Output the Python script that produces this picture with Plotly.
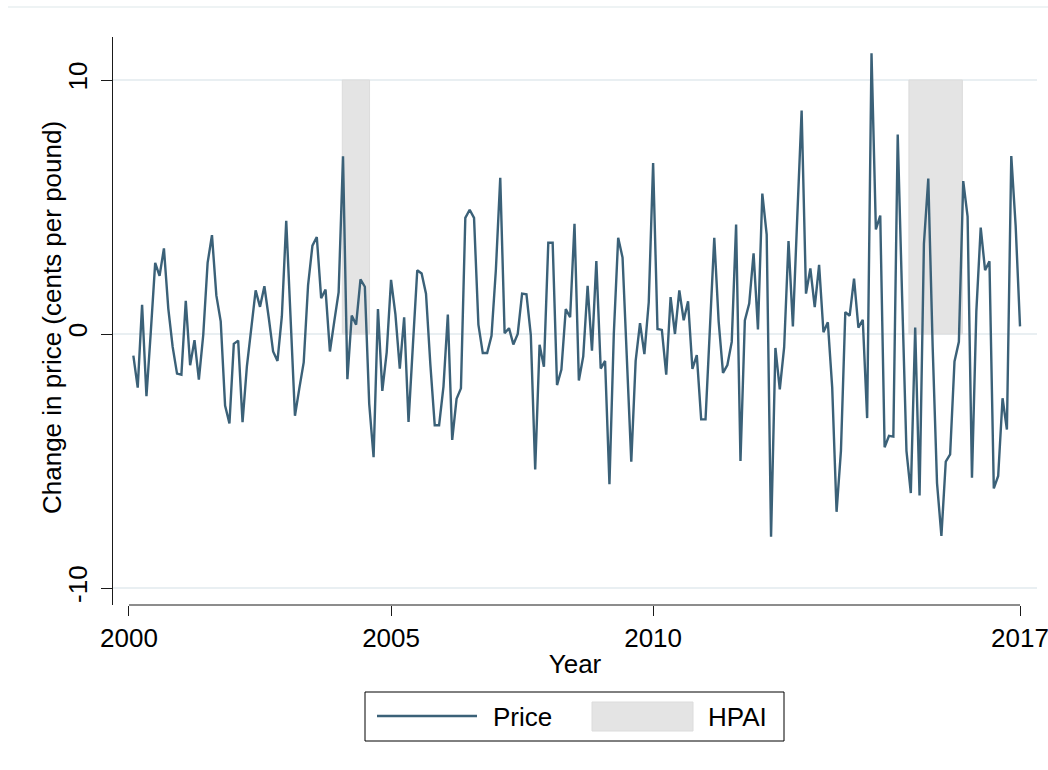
import plotly.graph_objects as go

# ---- data -------------------------------------------------------------
start_year = 2000
n_months = 204  # 2000m1 .. 2016m12
# monthly change in price (cents per pound)
price_change = [
    -0.85, -2.11, 1.15, -2.45, 0.10, 2.80, 2.29, 3.37, 1.00, -0.51, -1.56, -1.60,
    1.31, -1.23, -0.24, -1.80, -0.04, 2.80, 3.89, 1.52, 0.50, -2.82, -3.52, -0.39,
    -0.26, -3.47, -1.26, 0.30, 1.72, 1.07, 1.88, 0.64, -0.69, -1.06, 0.70, 4.46,
    0.60, -3.22, -2.14, -1.12, 1.92, 3.48, 3.82, 1.41, 1.75, -0.69, 0.50, 1.65,
    7.00, -1.78, 0.73, 0.37, 2.15, 1.86, -2.75, -4.85, 0.98, -2.24, -0.72, 2.13,
    0.77, -1.36, 0.66, -3.46, -0.45, 2.51, 2.38, 1.59, -1.20, -3.59, -3.59, -2.07,
    0.77, -4.17, -2.55, -2.14, 4.57, 4.89, 4.57, 0.37, -0.75, -0.75, -0.07, 2.53,
    6.15, 0.03, 0.23, -0.41, 0.00, 1.59, 1.56, -0.04, -5.33, -0.42, -1.29, 3.59,
    3.59, -2.01, -1.40, 0.98, 0.66, 4.34, -1.83, -0.88, 1.90, -0.66, 2.87, -1.36,
    -1.06, -5.91, 0.00, 3.79, 3.01, -0.99, -5.03, -1.06, 0.43, -0.79, 1.25, 6.73,
    0.20, 0.16, -1.60, 1.45, 0.00, 1.72, 0.54, 1.29, -1.37, -0.83, -3.36, -3.36,
    -0.04, 3.79, 0.50, -1.53, -1.22, -0.31, 4.31, -5.00, 0.53, 1.20, 3.18, 0.18,
    5.53, 3.91, -7.98, -0.55, -2.18, -0.52, 3.66, 0.30, 4.60, 8.80, 1.59, 2.58,
    1.06, 2.72, 0.07, 0.46, -2.10, -7.00, -4.60, 0.86, 0.72, 2.18, 0.25, 0.56,
    -3.31, 11.05, 4.12, 4.66, -4.46, -4.01, -4.04, 7.85, 1.50, -4.60, -6.26, 0.25,
    -6.36, 3.56, 6.12, -0.50, -5.87, -7.95, -5.02, -4.74, -1.08, -0.31, 6.02, 4.62,
    -5.66, 0.89, 4.19, 2.51, 2.86, -6.08, -5.59, -2.53, -3.76, 7.01, 4.26, 0.30,
]
# HPAI outbreak periods (fractional years) and shaded band height
hpai_start = [2004.07, 2014.88]
hpai_end = [2004.59, 2015.90]
hpai_low = 0
hpai_high = 10

x_ticks = [2000, 2005, 2010, 2017]
y_ticks = [-10, 0, 10]

# ---- derived x (year + month/12) ---------------------------------------
x_vals = [start_year + (i + 1) / 12 for i in range(n_months)]

LINE_COLOR = "#3b6178"
SHADE_COLOR = "#e4e4e4"
GRID_COLOR = "#e9eff2"
AXIS_COLOR = "#1a1a1a"
FONT = "Liberation Sans, Arial, sans-serif"

fig = go.Figure()

# shaded HPAI periods as filled polygons
hx, hy = [], []
for s, e in zip(hpai_start, hpai_end):
    hx += [s, e, e, s, s, None]
    hy += [hpai_low, hpai_low, hpai_high, hpai_high, hpai_low, None]
fig.add_trace(go.Scatter(
    x=hx, y=hy, mode="lines", fill="toself", fillcolor=SHADE_COLOR,
    line=dict(color="#dcdcdc", width=1), name="HPAI", showlegend=False,
    hoverinfo="skip",
))

fig.add_trace(go.Scatter(
    x=x_vals, y=price_change, mode="lines", name="Price",
    line=dict(color=LINE_COLOR, width=2.4), showlegend=False,
))

# ---- layout -------------------------------------------------------------
L, R, T, B = 113, 11, 37, 165
W, H = 1048, 770
pw, ph = W - L - R, H - T - B


def px_x(p):
    return (p - L) / pw


def px_y(p):
    return (H - B - p) / ph


fig.update_layout(
    width=W, height=H,
    margin=dict(l=L, r=R, t=T, b=B, autoexpand=False),
    paper_bgcolor="white", plot_bgcolor="white",
    font=dict(family=FONT, size=26, color="black"),
    showlegend=False,
    xaxis=dict(
        range=[1999.695, 2017.324],
        tickmode="array", tickvals=x_ticks, ticktext=[str(t) for t in x_ticks],
        ticks="outside", ticklen=10, tickwidth=1, tickcolor=AXIS_COLOR,
        ticklabeloverflow="allow",
        showline=False, showgrid=False, zeroline=False, automargin=False,
        title=dict(text="Year", standoff=2, font=dict(size=26)),
        tickfont=dict(size=26),
    ),
    yaxis=dict(
        range=[-10.669, 11.693],
        tickmode="array", tickvals=y_ticks, ticktext=[str(t) for t in y_ticks],
        tickangle=-90, ticklabelstandoff=4, ticklabeloverflow="allow",
        ticks="outside", ticklen=11, tickwidth=1, tickcolor=AXIS_COLOR,
        showline=True, linecolor=AXIS_COLOR, linewidth=1,
        showgrid=True, gridcolor=GRID_COLOR, gridwidth=1.5,
        zeroline=False, automargin=False,
        tickfont=dict(size=26),
    ),
)

# x axis line spans only the labelled range (Stata style)
fig.add_shape(type="line", xref="x", yref="paper",
              x0=x_ticks[0], x1=x_ticks[-1], y0=0, y1=0,
              line=dict(color=AXIS_COLOR, width=1))

# y axis title
fig.add_annotation(text="Change in price (cents per pound)", textangle=-90,
                   xref="paper", yref="paper", x=px_x(52), y=px_y(318),
                   xanchor="center", yanchor="middle", showarrow=False,
                   font=dict(size=26))

# faint graph-region border at top
fig.add_shape(type="line", xref="paper", yref="paper",
              x0=px_x(8), x1=px_x(W), y0=px_y(7), y1=px_y(7),
              line=dict(color="#e9eff1", width=1.5))

# ---- manual legend (Stata style) --------------------------------------
fig.add_shape(type="rect", xref="paper", yref="paper",
              x0=px_x(365), x1=px_x(784), y0=px_y(741), y1=px_y(692),
              line=dict(color="black", width=1), fillcolor="white")
fig.add_shape(type="line", xref="paper", yref="paper",
              x0=px_x(377), x1=px_x(477), y0=px_y(716), y1=px_y(716),
              line=dict(color=LINE_COLOR, width=2.4))
fig.add_shape(type="rect", xref="paper", yref="paper",
              x0=px_x(592), x1=px_x(693), y0=px_y(731), y1=px_y(702),
              line=dict(color="#dcdcdc", width=1), fillcolor=SHADE_COLOR)
fig.add_annotation(text="Price", xref="paper", yref="paper",
                   x=px_x(491), y=px_y(717), xanchor="left", yanchor="middle",
                   showarrow=False, font=dict(size=26))
fig.add_annotation(text="HPAI", xref="paper", yref="paper",
                   x=px_x(706), y=px_y(717), xanchor="left", yanchor="middle",
                   showarrow=False, font=dict(size=26))

fig.write_html("out.html")
